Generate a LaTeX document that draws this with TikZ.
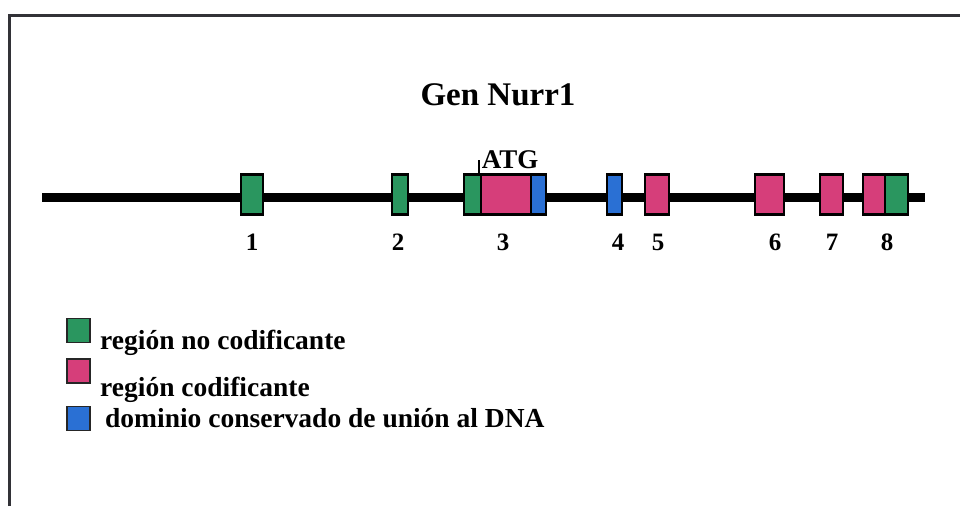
\documentclass[tikz,border=0pt]{standalone}
\usepackage{fontspec}
\setmainfont{Liberation Serif}
\definecolor{exgreen}{RGB}{42,150,95}
\definecolor{expink}{RGB}{214,62,122}
\definecolor{exblue}{RGB}{42,112,212}
\definecolor{framegray}{RGB}{50,50,55}
\begin{document}
\begin{tikzpicture}[x=1pt,y=-1pt,
  exon/.style={draw=black, line width=2.4pt, inner sep=0pt, minimum height=40pt},
  legbox/.style={draw=black!85, line width=1.2pt, inner sep=0pt, minimum width=23pt, minimum height=24pt},
  num/.style={anchor=base, font=\bfseries\fontsize{25}{25}\selectfont, inner sep=0pt},
  legtext/.style={anchor=base west, font=\bfseries\fontsize{27.5}{27.5}\selectfont, inner sep=0pt}]
\useasboundingbox (0,0) rectangle (960,506);
% frame
\coordinate (fbl) at (9,506);
\coordinate (ftl) at (9,15);
\coordinate (ftr) at (960,15);
\draw[framegray, line width=3pt] (fbl) -- (ftl) -- (ftr);
% title
\node[anchor=base, font=\bfseries\fontsize{33}{33}\selectfont, inner sep=0pt] (title) at (498,105) {Gen Nurr1};
% backbone
\coordinate (bbs) at (42,197.5);
\coordinate (bbe) at (925,197.5);
\draw[black, line width=9pt] (bbs) -- (bbe);
% exons
\node[exon, fill=exgreen, minimum width=22pt] (e1) at (252,194.5) {};
\node[exon, fill=exgreen, minimum width=16pt] (e2) at (400,194.5) {};
\node[exon, fill=exgreen, minimum width=17pt] (e3a) at (472.5,194.5) {};
\node[exon, fill=expink, minimum width=50pt] (e3b) at (506,194.5) {};
\node[exon, fill=exblue, minimum width=15pt] (e3c) at (538.5,194.5) {};
\node[exon, fill=exblue, minimum width=15pt] (e4) at (614.5,194.5) {};
\node[exon, fill=expink, minimum width=24pt] (e5) at (657,194.5) {};
\node[exon, fill=expink, minimum width=29pt] (e6) at (769.5,194.5) {};
\node[exon, fill=expink, minimum width=23pt] (e7) at (831.5,194.5) {};
\node[exon, fill=expink, minimum width=22pt] (e8a) at (874,194.5) {};
\node[exon, fill=exgreen, minimum width=23pt] (e8b) at (896.5,194.5) {};
% ATG
\node[anchor=base, font=\bfseries\fontsize{27}{27}\selectfont, inner sep=0pt] (atg) at (510,168) {ATG};
\coordinate (atgtop) at (479,160);
\coordinate (atgbot) at (479,174);
\draw[black, line width=2pt] (atgtop) -- (atgbot);
% numbers
\node[num] (n1) at (252,250) {1};
\node[num] (n2) at (398,250) {2};
\node[num] (n3) at (503,250) {3};
\node[num] (n4) at (618,250) {4};
\node[num] (n5) at (658,250) {5};
\node[num] (n6) at (775,250) {6};
\node[num] (n7) at (832,250) {7};
\node[num] (n8) at (887,250) {8};
% legend
\node[legbox, fill=exgreen] (lg) at (78.5,330.5) {};
\node[legbox, fill=expink] (lp) at (78.5,371) {};
\node[legbox, fill=exblue] (lb) at (78.5,418.5) {};
\node[legtext] (tg) at (100,349) {región no codificante};
\node[legtext] (tp) at (100,396) {región codificante};
\node[legtext] (tb) at (105,427) {dominio conservado de unión al DNA};
\end{tikzpicture}
\end{document}
